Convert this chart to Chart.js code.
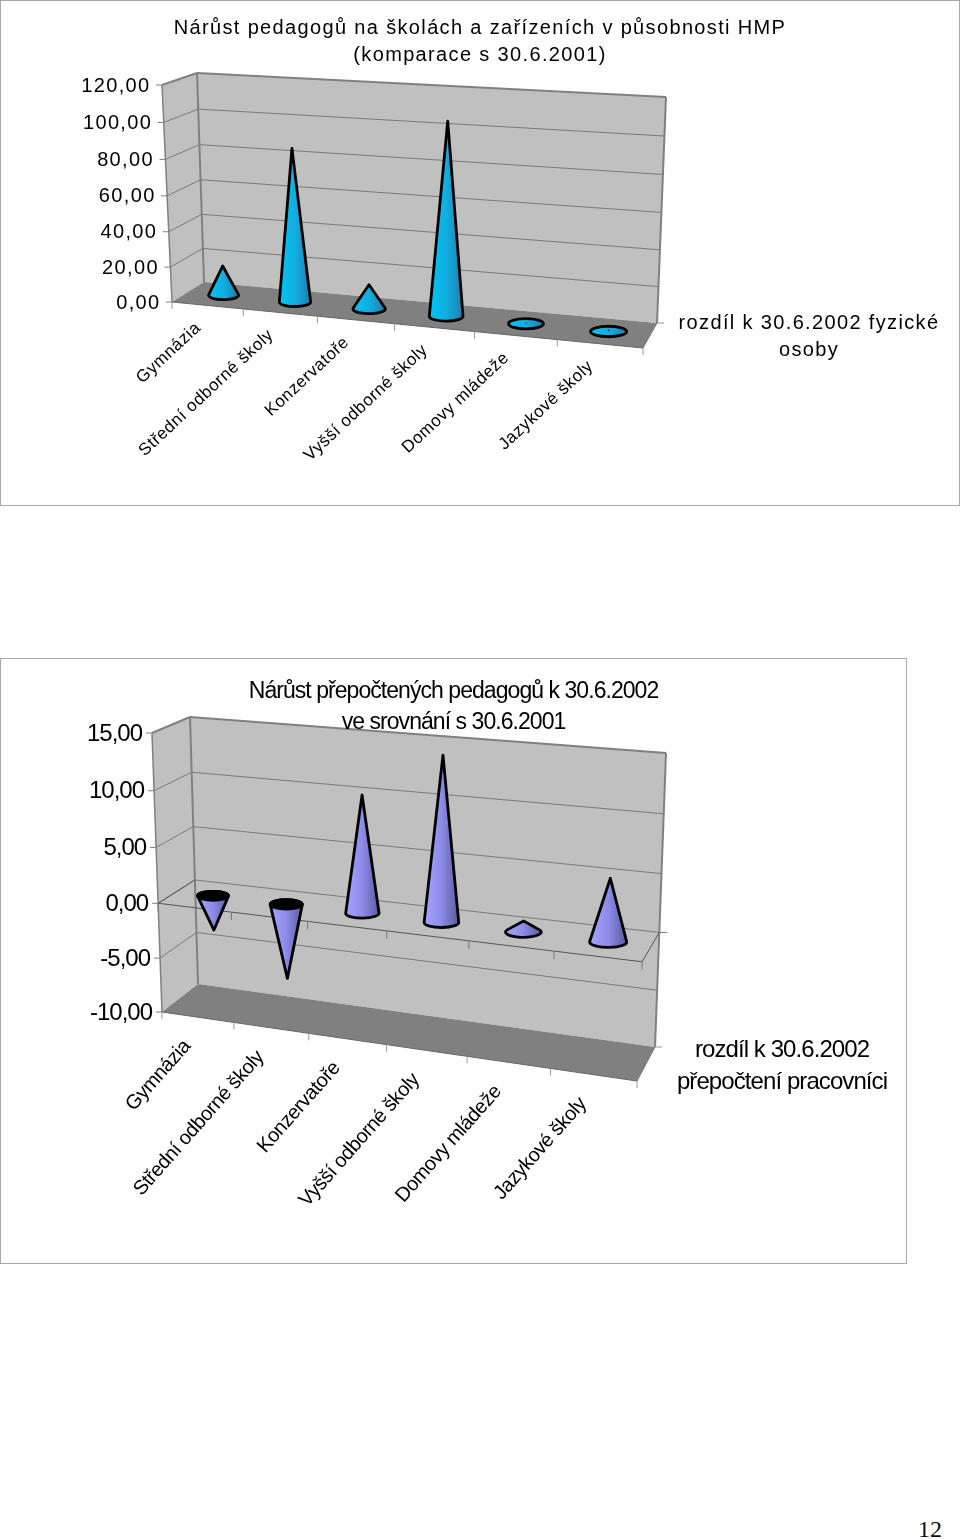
<!DOCTYPE html>
<html lang="cs">
<head>
<meta charset="utf-8">
<title>Nárůst pedagogů</title>
<script src="https://cdn.jsdelivr.net/npm/chart.js@4/dist/chart.umd.js"></script>
<style>
html,body{margin:0;padding:0;background:#fff;width:960px;height:1539px;overflow:hidden}
.box{position:absolute;left:0;box-sizing:border-box;border:1px solid #a8a8a8}
.box canvas{position:absolute;left:-1px;top:-1px}
#pg{position:absolute;left:918px;top:1516px;font:24px "Liberation Serif",serif;color:#111}
</style>
</head>
<body>
<div class="box" style="top:0;width:960px;height:506px"><canvas id="c1" width="960" height="506"></canvas></div>
<div class="box" style="top:658px;width:907px;height:606px"><canvas id="c2" width="907" height="606"></canvas></div>
<div id="pg">12</div>
<script>
const categories = ['Gymnázia','Střední odborné školy','Konzervatoře','Vyšší odborné školy','Domovy mládeže','Jazykové školy'];
const persons = [17, 86, 13.7, 105.6, 0.4, 0.6];
const fte = [-3.16, -6.77, 10.33, 14.3, 0.95, 5.35];
const titlePersons = ['Nárůst pedagogů na školách a zařízeních v působnosti HMP','(komparace s 30.6.2001)'];
const titleFte = ['Nárůst přepočtených pedagogů k 30.6.2002','ve srovnání s 30.6.2001'];
const legendPersons = ['rozdíl k 30.6.2002 fyzické','osoby'];
const legendFte = ['rozdíl k 30.6.2002','přepočtení pracovníci'];

const WARP_T = -0.11, WARP_V = -0.043;
const lerp = (a,b,f)=>a+(b-a)*f;
const lerpP = (a,b,f)=>[lerp(a[0],b[0],f),lerp(a[1],b[1],f)];
const fmt = v=>Number(v).toFixed(2).replace('.',',');

function projector(g){
  return function(t,v,d){
    const tw = t+WARP_T*t*(1-t), vw = v+WARP_V*v*(1-v);
    const fb = lerpP(g.flb,g.frb,tw), ft = lerpP(g.flt,g.frt,tw);
    const bb = lerpP(g.blb,g.brb,tw), bt = lerpP(g.blt,g.brt,tw);
    return lerpP(lerpP(fb,ft,vw),lerpP(bb,bt,vw),d);
  };
}
function poly(ctx,pts,fill){
  ctx.beginPath();
  pts.forEach((p,i)=>i?ctx.lineTo(p[0],p[1]):ctx.moveTo(p[0],p[1]));
  ctx.closePath();
  if(fill){ctx.fillStyle=fill;ctx.fill();}
}
function seg(ctx,a,b,color,w){
  ctx.beginPath();ctx.moveTo(a[0],a[1]);ctx.lineTo(b[0],b[1]);
  ctx.strokeStyle=color;ctx.lineWidth=w;ctx.stroke();
}
function cone(ctx,base,tip,rx,colors){
  const ry=rx*0.29, up=tip[1]<base[1], H=Math.abs(tip[1]-base[1]);
  const cx=base[0], cy=base[1];
  const g=ctx.createLinearGradient(cx-rx,0,cx+rx,0);
  g.addColorStop(0,colors[0]);g.addColorStop(0.5,colors[1]);g.addColorStop(1,colors[2]);
  ctx.save();
  ctx.lineJoin='round';ctx.strokeStyle='#000';ctx.lineWidth=2.8;
  if(H<=ry){
    ctx.beginPath();ctx.ellipse(cx,cy,rx,ry,0,0,Math.PI*2);
    ctx.fillStyle=g;ctx.fill();ctx.stroke();
    ctx.beginPath();ctx.arc(tip[0],tip[1],0.8,0,Math.PI*2);ctx.fillStyle='#123';ctx.fill();
  }else{
    const q=ry/H, a=Math.asin(q);
    ctx.beginPath();
    ctx.moveTo(tip[0],tip[1]);
    if(up){
      ctx.lineTo(cx+rx*Math.cos(a),cy-ry*q);
      ctx.ellipse(cx,cy,rx,ry,0,-a,Math.PI+a);
    }else{
      ctx.lineTo(cx+rx*Math.cos(a),cy+ry*q);
      ctx.ellipse(cx,cy,rx,ry,0,a,Math.PI-a,true);
    }
    ctx.closePath();
    ctx.fillStyle=g;ctx.fill();ctx.stroke();
    if(!up){
      ctx.beginPath();ctx.ellipse(cx,cy,rx,ry,0,0,Math.PI*2);
      ctx.fillStyle='#000';ctx.fill();ctx.stroke();
    }
  }
  ctx.restore();
}
function withSpacing(scale,ctx,px){
  if(scale.__sp||typeof scale.drawLabels!=='function') return;
  scale.__sp=true;
  const d=scale.drawLabels.bind(scale);
  scale.drawLabels=a=>{ctx.save();ctx.letterSpacing=px+'px';d(a);ctx.restore();};
}

function makeChart(id,o){
  const P=projector(o.geo);
  const plugin={
    id:'walls3d',
    beforeDraw(chart){
      const ctx=chart.ctx, ca=chart.chartArea, ys=chart.scales.y, xs=chart.scales.x;
      ctx.letterSpacing=o.spacing+'px';
      withSpacing(xs,ctx,o.xSpacing);
      withSpacing(ys,ctx,o.ySpacing);
      const V=val=>(ca.bottom-ys.getPixelForValue(val))/(ca.bottom-ca.top);
      const zero=V(0);
      poly(ctx,[P(0,0,0),P(0,1,0),P(0,1,1),P(0,0,1)],'#c0c0c0');
      poly(ctx,[P(0,0,1),P(0,1,1),P(1,1,1),P(1,0,1)],'#c0c0c0');
      poly(ctx,[P(0,0,0),P(0,0,1),P(1,0,1),P(1,0,0)],'#808080');
      ys.ticks.forEach(tk=>{
        const v=V(tk.value);
        seg(ctx,P(0,v,0),[P(0,v,0)[0]-6,P(0,v,0)[1]],'#808080',1);
        if(v<=0.001||v>=0.999) return;
        seg(ctx,P(0,v,0),P(0,v,1),'#7a7a7a',1);
        seg(ctx,P(0,v,1),P(1,v,1),'#7a7a7a',1);
      });
      const edge='#808080';
      seg(ctx,P(0,0,0),P(0,1,0),edge,1.5);
      seg(ctx,P(0,0,1),P(0,1,1),edge,2);
      seg(ctx,P(1,0,1),P(1,1,1),edge,2);
      seg(ctx,P(0,1,0),P(0,1,1),edge,2);
      seg(ctx,P(0,1,1),P(1,1,1),edge,2.2);
      seg(ctx,P(0,0,0),P(1,0,0),'#666',1);
      seg(ctx,P(1,0,0),P(1,0,1),'#777',1);
      seg(ctx,P(1,0,1),[P(1,0,1)[0]+7,P(1,0,1)[1]],'#999',1);
      const n=categories.length;
      for(let i=0;i<=n;i++){
        const f=P(i/n,0,0);
        seg(ctx,f,[f[0],f[1]+7],'#999',1);
      }
      if(zero>0.001){
        seg(ctx,P(0,zero,0),P(1,zero,0),'#555',1);
        seg(ctx,P(0,zero,0),P(0,zero,1),'#555',1);
        seg(ctx,P(1,zero,0),P(1,zero,1),'#555',1);
        seg(ctx,P(1,zero,1),[P(1,zero,1)[0]+8,P(1,zero,1)[1]],'#777',1);
        for(let i=0;i<=n;i++){
          const f=P(i/n,zero,0);
          seg(ctx,f,[f[0],f[1]+8],'#777',1);
        }
      }
      ys.getLabelItems().forEach((it,i)=>{
        const p=P(0,V(ys.ticks[i].value),0);
        it.textOffset=0;
        it.options.translation=[p[0]+o.yLabelDx,p[1]+1];
        it.options.rotation=0;
        it.options.textAlign='right';
        it.options.textBaseline='middle';
      });
      xs.getLabelItems().forEach((it,i)=>{
        const p=P((xs.getPixelForTick(i)-ca.left)/(ca.right-ca.left),0,0);
        it.textOffset=0;
        it.options.translation=[p[0]+o.xLabelDx,p[1]+o.xLabelDy];
        it.options.rotation=-o.xAngle*Math.PI/180;
        it.options.textAlign='right';
        it.options.textBaseline='middle';
      });
    },
    afterDatasetsDraw(chart){
      const ctx=chart.ctx, ca=chart.chartArea, ys=chart.scales.y;
      const w=ca.right-ca.left, h=ca.bottom-ca.top;
      const T=x=>(x-ca.left)/w, V=y=>(ca.bottom-y)/h;
      const zy=ys.getPixelForValue(0);
      chart.getDatasetMeta(0).data.forEach(el=>{
        const base=P(T(el.x),V(zy),0.5), tip=P(T(el.x),V(el.y),0.5);
        const a=P(T(el.x-el.width/2),V(zy),0.5), b=P(T(el.x+el.width/2),V(zy),0.5);
        base[0]+=1; tip[0]+=1;
        cone(ctx,base,tip,(b[0]-a[0])/2,o.colors);
      });
      ctx.save();
      ctx.letterSpacing=o.legendSpacing+'px';
      ctx.font=o.legendFont;ctx.fillStyle='#000';ctx.textAlign='center';ctx.textBaseline='middle';
      o.legend.forEach((s,i)=>ctx.fillText(s,o.legendX,o.legendY[i]));
      ctx.restore();
    }
  };
  return new Chart(document.getElementById(id),{
    type:'bar',
    data:{labels:categories,datasets:[{label:o.legend.join(' '),data:o.values,
      backgroundColor:'rgba(0,0,0,0)',borderWidth:0,barPercentage:0.43,categoryPercentage:1}]},
    options:{
      responsive:false,animation:false,devicePixelRatio:1,
      plugins:{
        legend:{display:false},tooltip:{enabled:false},
        title:{display:true,text:o.title,color:'#000',align:'center',
          font:{family:'"Liberation Sans"',size:o.titleSize,lineHeight:o.titleLine,weight:'normal'},
          padding:{top:o.titleTop,bottom:2}}
      },
      scales:{
        x:{grid:{display:false},border:{display:false},
           ticks:{autoSkip:false,mirror:true,minRotation:45,maxRotation:45,color:'#000',
             font:{family:'"Liberation Sans"',size:o.xSize}}},
        y:{min:o.min,max:o.max,grid:{display:false},border:{display:false},
           ticks:{stepSize:o.step,mirror:true,color:'#000',callback:fmt,
             font:{family:'"Liberation Sans"',size:o.ySize}}}
      }
    },
    plugins:[plugin]
  });
}

makeChart('c1',{
  values:persons,title:titlePersons,legend:legendPersons,min:0,max:120,step:20,
  spacing:1.35,xSpacing:0.55,ySpacing:1.35,legendSpacing:1.35,
  titleSize:20,titleLine:1.35,titleTop:15,xSize:17,ySize:20,
  yLabelDx:-11.5,xLabelDx:-9,xLabelDy:20,xAngle:43,
  legendFont:'20px "Liberation Sans"',legendX:809,legendY:[323,350],
  colors:['#00c4f5','#12aee0','#1c7fae'],
  geo:{flb:[172,302],frb:[643,348],blb:[204,282],brb:[657,323],
       flt:[162,85],frt:[654,113],blt:[197,73],brt:[666,97]}
});
makeChart('c2',{
  values:fte,title:titleFte,legend:legendFte,min:-10,max:15,step:5,
  spacing:-0.95,xSpacing:-0.43,ySpacing:-1,legendSpacing:-0.92,
  titleSize:23,titleLine:1.35,titleTop:18,xSize:20,ySize:24,
  yLabelDx:-10,xLabelDx:-10.5,xLabelDy:26,xAngle:48.5,
  legendFont:'24px "Liberation Sans"',legendX:782,legendY:[392,424],
  colors:['#a4a4ff','#8c8ce8','#5a5a9e'],
  geo:{flb:[162,354],frb:[637,423],blb:[198,326],brb:[655,389],
       flt:[152,75],frt:[650,117],blt:[190,59],brt:[666,95]}
});
</script>
</body>
</html>
